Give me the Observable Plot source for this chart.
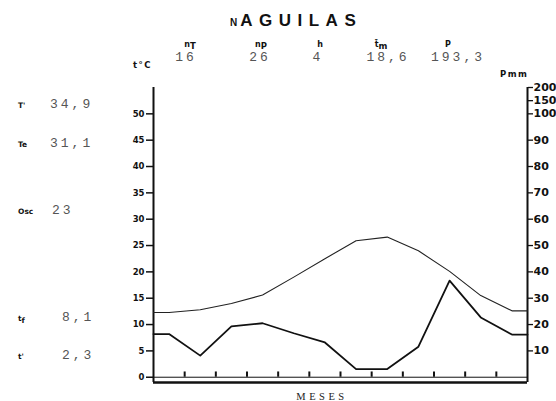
<!DOCTYPE html>
<html>
<head>
<meta charset="utf-8">
<script src="https://cdn.jsdelivr.net/npm/d3@7"></script>
<script src="https://cdn.jsdelivr.net/npm/@observablehq/plot@0.6"></script>
<style>
  html, body { margin: 0; padding: 0; background: #fff; }
  #chart { width: 556px; height: 401px; overflow: hidden; }
</style>
</head>
<body>
<div id="chart"></div>
<script>
// ---- data ----
const monthIndex = [0, 1, 2, 3, 4, 5, 6, 7, 8, 9, 10, 11];
const tempC = [12.3, 12.8, 14.0, 15.6, 19.0, 22.5, 25.9, 26.6, 24.0, 20.1, 15.5, 12.6];
const precipMm = [16.4, 8.2, 19.3, 20.5, 16.7, 13.2, 3.1, 3.1, 11.6, 36.7, 22.7, 16.2];
const leftTicks = [0, 5, 10, 15, 20, 25, 30, 35, 40, 45, 50];
const rightTicks = [10, 20, 30, 40, 50, 60, 70, 80, 90, 100, 150, 200];
const title = "AGUILAS";
const headerLabels = ["n", "n", "h", "t̄", "P"];
const headerSubs = ["T", "P", "", "m", ""];
const headerValues = ["16", "26", "4", "18,6", "193,3"];
const sideLabels = ["T'", "Te", "Osc", "tf", "t'"];
const sideValues = ["34,9", "31,1", "23", "8,1", "2,3"];

// Walter-Lieth precipitation scale: 20 mm = 10 °C up to 100 mm, then compressed 1:10
const mmToC = mm => mm <= 100 ? mm / 2 : 50 + (mm - 100) / 20;
const cToMm = c => Math.round(c <= 50 ? c * 2 : 100 + (c - 50) * 20);

// line series: month midpoints, extended flat to the frame edges
function series(vals, conv) {
  const pts = [{x: 0, y: conv(vals[0])}];
  monthIndex.forEach(i => pts.push({x: i + 0.5, y: conv(vals[i])}));
  pts.push({x: 12, y: conv(vals[11])});
  return pts;
}
const tempLine = series(tempC, v => v);
const precLine = series(precipMm, mmToC);

const svg = Plot.plot({
  width: 556,
  height: 401,
  marginLeft: 153,
  marginRight: 29,
  marginTop: 87,
  marginBottom: 19,
  style: {fontFamily: "DejaVu Sans, sans-serif", fontSize: "8px", fontWeight: "bold", color: "#111", background: "#fff", overflow: "hidden"},
  x: {domain: [0, 12], axis: null},
  y: {domain: [-1, 55], axis: null},
  marks: [
    Plot.axisY(leftTicks, {anchor: "left", tickSize: 7, tickPadding: 2, label: null, strokeWidth: 1.5, fontSize: 8.5, fontWeight: "bold", letterSpacing: 1.2}),
    Plot.axisY(rightTicks.map(mmToC), {anchor: "right", tickSize: 5, tickPadding: 1, label: null, strokeWidth: 1.3, fontSize: 11, fontWeight: "bold", letterSpacing: 2, tickFormat: c => String(cToMm(c))}),
    Plot.ruleY([0], {x1: 0, x2: 12, stroke: "#111", strokeWidth: 1}),
    Plot.ruleY([-1], {x1: 0, x2: 12, stroke: "#111", strokeWidth: 2.5}),
    Plot.ruleX([0, 12], {y1: -1, y2: 55, stroke: "#111", strokeWidth: 2}),
    Plot.ruleX(d3.range(1, 12), {y1: 0, y2: 1, stroke: "#111", strokeWidth: 2}),
    Plot.line(tempLine, {x: "x", y: "y", stroke: "#222", strokeWidth: 1.1}),
    Plot.line(precLine, {x: "x", y: "y", stroke: "#111", strokeWidth: 1.8})
  ]
});
document.getElementById("chart").appendChild(svg);

// ---- annotations (layout positions) ----
const g = d3.select(svg).append("g").attr("text-anchor", "start");
const mono = "Liberation Mono, DejaVu Sans Mono, monospace";
const sans = "DejaVu Sans, Liberation Sans, sans-serif";

// title
const t = g.append("text").attr("x", 230).attr("y", 26).attr("text-anchor", "start").attr("font-family", "Liberation Sans, Arial, sans-serif").attr("font-weight", "bold").attr("fill", "#111");
t.append("tspan").attr("font-size", 10).text("N");
t.append("tspan").attr("font-size", 17).attr("letter-spacing", 6.5).attr("dx", 3).text(title);

// header row
const hx = [190, 261, 320, 381, 448];
const vx = [186, 260, 318, 388, 458];
headerLabels.forEach((lab, i) => {
  const tx = g.append("text").attr("x", hx[i]).attr("y", 47).attr("text-anchor", "middle")
    .attr("font-family", sans).attr("font-size", 8).attr("font-weight", "bold").attr("fill", "#111");
  tx.append("tspan").text(lab);
  if (headerSubs[i]) tx.append("tspan").attr("dy", 2).attr("font-size", 8.5).text(headerSubs[i]);
  g.append("text").attr("x", vx[i]).attr("y", 61).attr("text-anchor", "middle")
    .attr("font-family", mono).attr("font-size", 13).attr("font-weight", "normal").attr("letter-spacing", 3).attr("fill", "#555").text(headerValues[i]);
});
g.append("text").attr("x", 133).attr("y", 68).attr("text-anchor", "start").attr("font-family", sans).attr("font-size", 8.5).attr("letter-spacing", 1.5).attr("font-weight", "bold").attr("fill", "#111").text("t°C");
g.append("text").attr("x", 500).attr("y", 77).attr("text-anchor", "start").attr("font-family", sans).attr("font-size", 8.5).attr("letter-spacing", 1.5).attr("font-weight", "bold").attr("fill", "#111").text("Pmm");

// side stats
const sy = [108, 147, 214, 321, 359];
const svx = [50, 50, 52, 62, 62];
sideLabels.forEach((lab, i) => {
  const tx = g.append("text").attr("x", 18).attr("y", sy[i]).attr("text-anchor", "start").attr("font-family", sans).attr("font-size", 7.5).attr("font-weight", "bold").attr("fill", "#111");
  if (lab === "tf") { tx.append("tspan").text("t"); tx.append("tspan").attr("dy", 1.5).text("f"); }
  else tx.text(lab);
  g.append("text").attr("x", svx[i]).attr("y", sy[i]).attr("text-anchor", "start").attr("font-family", mono).attr("font-size", 13).attr("font-weight", "normal").attr("letter-spacing", 3).attr("fill", "#555").text(sideValues[i]);
});

// x caption
g.append("text").attr("x", 322).attr("y", 400).attr("text-anchor", "middle").attr("font-family", "Liberation Serif, DejaVu Serif, serif")
  .attr("font-size", 10.5).attr("font-weight", "normal").attr("letter-spacing", 3.5).attr("fill", "#222").text("MESES");
</script>
</body>
</html>
